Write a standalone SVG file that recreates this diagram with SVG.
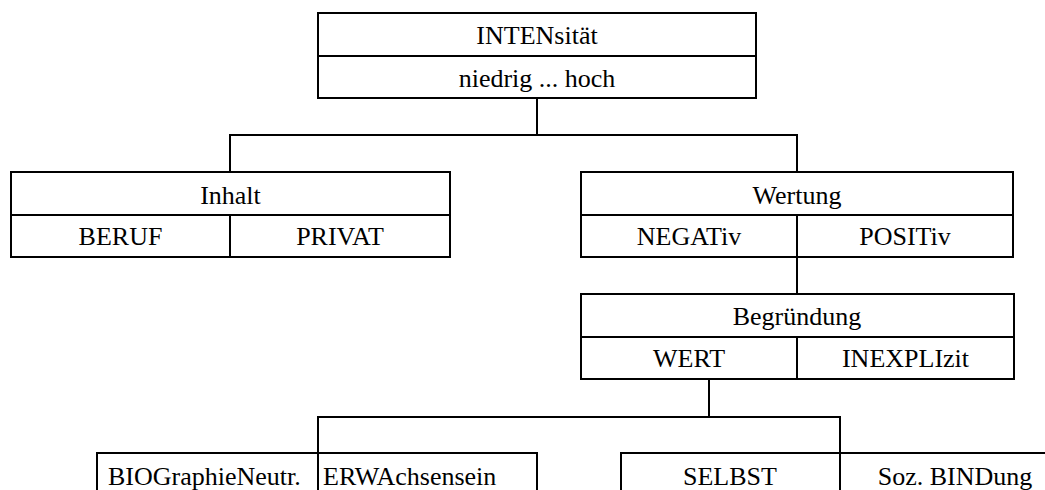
<svg xmlns="http://www.w3.org/2000/svg" width="1045" height="490" viewBox="0 0 1045 490">
<style>
.b{fill:#fff;stroke:#000;stroke-width:2}
.l{fill:none;stroke:#000;stroke-width:2}
.m{text-anchor:middle}
</style>
<rect width="1045" height="490" fill="#fff"/>
<g id="connectors">
<path class="l" d="M537 98V135M230 172V135H797V172"/>
<path class="l" d="M797 257V294"/>
<path class="l" d="M709 379V417M318 453V417H840V453"/>
</g>
<g font-family="'Liberation Serif', 'Times New Roman', Tinos, 'DejaVu Serif', serif" font-size="26" fill="#000">
<g id="intensitaet">
<rect class="b" x="318" y="13" width="438" height="85"/>
<path class="l" d="M318 56H756"/>
<text class="m" x="537" y="44">INTENsität</text>
<text class="m" x="537" y="87">niedrig ... hoch</text>
</g>
<g id="inhalt">
<rect class="b" x="11" y="172" width="439" height="85"/>
<path class="l" d="M11 215H450M230 215V257"/>
<text class="m" x="230.5" y="204">Inhalt</text>
<text class="m" x="120.5" y="245">BERUF</text>
<text class="m" x="340" y="245">PRIVAT</text>
</g>
<g id="wertung">
<rect class="b" x="581" y="172" width="432" height="85"/>
<path class="l" d="M581 215H1013M797 215V257"/>
<text class="m" x="797" y="204">Wertung</text>
<text class="m" x="689" y="245">NEGATiv</text>
<text class="m" x="905" y="245">POSITiv</text>
</g>
<g id="begruendung">
<rect class="b" x="581" y="294" width="433" height="85"/>
<path class="l" d="M581 337H1014M797 337V379"/>
<text class="m" x="797" y="325">Begründung</text>
<text class="m" x="689" y="367">WERT</text>
<text class="m" x="905.5" y="367">INEXPLIzit</text>
</g>
<g id="biographie">
<path class="l" d="M97 500V453H537V500M318 453V500"/>
<text x="108" y="485">BIOGraphieNeutr.</text>
<text x="323" y="485">ERWAchsensein</text>
</g>
<g id="selbst">
<path class="l" d="M621 500V453H1060M840 453V500"/>
<text class="m" x="730" y="485">SELBST</text>
<text class="m" x="955" y="485">Soz. BINDung</text>
</g>
</g>
</svg>
